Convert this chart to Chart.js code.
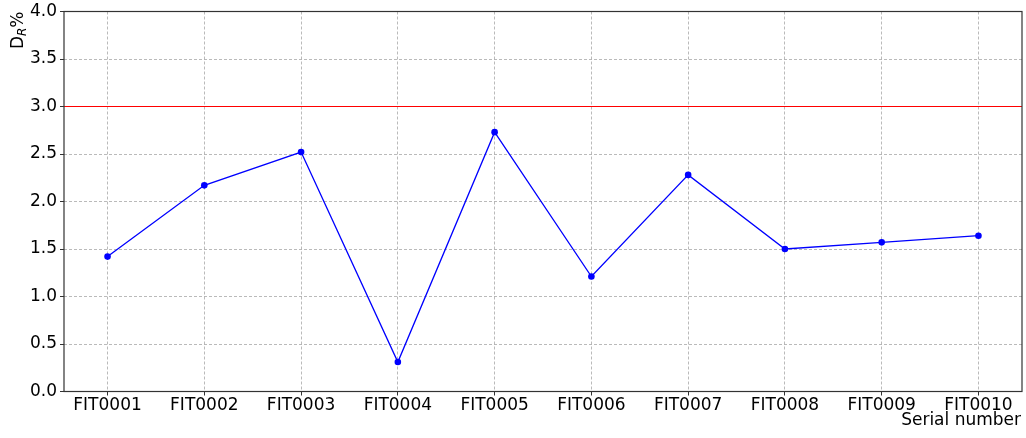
<!DOCTYPE html>
<html>
<head>
<meta charset="utf-8">
<script src="https://cdn.jsdelivr.net/npm/chart.js@4.4.1/dist/chart.umd.min.js"></script>
<style>
  html, body { margin: 0; padding: 0; background: #ffffff; }
  #wrap { width: 1026px; height: 438px; }
</style>
</head>
<body>
<div id="wrap"><canvas id="chart" width="1026" height="438"></canvas></div>
<script>
// Serial numbers of the measured units
const serials = ['FIT0001', 'FIT0002', 'FIT0003', 'FIT0004', 'FIT0005',
                 'FIT0006', 'FIT0007', 'FIT0008', 'FIT0009', 'FIT0010'];
// Relative deviation D_R in percent for each unit
const deviation = [1.42, 2.17, 2.52, 0.31, 2.73, 1.21, 2.28, 1.50, 1.57, 1.64];
// Acceptance limit (percent)
const limit = 3.0;
// Y axis tick values
const yTicks = [0.0, 0.5, 1.0, 1.5, 2.0, 2.5, 3.0, 3.5, 4.0];

const FONT = '"DejaVu Sans", sans-serif';
const FONT_SIZE = 17;

const points = deviation.map((v, i) => ({ x: i, y: v }));

// Horizontal limit line across the full plot width
const limitLine = {
  id: 'limitLine',
  beforeDatasetsDraw(chart) {
    const { ctx, chartArea, scales } = chart;
    const y = scales.y.getPixelForValue(limit);
    ctx.save();
    ctx.strokeStyle = '#ff0000';
    ctx.lineWidth = 1.2;
    ctx.beginPath();
    ctx.moveTo(chartArea.left, y);
    ctx.lineTo(chartArea.right, y);
    ctx.stroke();
    ctx.restore();
  }
};

// Box around the plot area plus the two axis labels
const frameAndLabels = {
  id: 'frameAndLabels',
  afterDraw(chart) {
    const { ctx, chartArea } = chart;
    ctx.save();
    ctx.strokeStyle = '#333333';
    ctx.lineWidth = 1.2;
    ctx.strokeRect(chartArea.left, chartArea.top,
                   chartArea.right - chartArea.left, chartArea.bottom - chartArea.top);

    // x axis label, right aligned under the axis
    ctx.fillStyle = '#000000';
    ctx.font = FONT_SIZE + 'px ' + FONT;
    ctx.textAlign = 'right';
    ctx.textBaseline = 'alphabetic';
    ctx.fillText('Serial number', chartArea.right - 1, 425);

    // y axis label D_R %, rotated, ending at the top of the axis
    const big = FONT_SIZE + 'px ' + FONT;
    const small = 'italic ' + Math.round(FONT_SIZE * 0.7) + 'px ' + FONT;
    ctx.font = big;
    const wD = ctx.measureText('D').width;
    const wP = ctx.measureText('%').width;
    ctx.font = small;
    const wR = ctx.measureText('R').width;
    const total = wD + wR + wP;
    ctx.translate(23, chartArea.top);
    ctx.rotate(-Math.PI / 2);
    ctx.textAlign = 'left';
    let x = -total;
    ctx.font = big;
    ctx.fillText('D', x, 0);
    x += wD;
    ctx.font = small;
    ctx.fillText('R', x, 3);
    x += wR;
    ctx.font = big;
    ctx.fillText('%', x, 0);
    ctx.restore();
  }
};

new Chart(document.getElementById('chart'), {
  type: 'line',
  data: {
    datasets: [{
      data: points,
      borderColor: '#0000ff',
      backgroundColor: '#0000ff',
      borderWidth: 1.3,
      pointRadius: 3.3,
      pointBorderWidth: 0,
      pointBackgroundColor: '#0000ff',
      tension: 0,
      fill: false
    }]
  },
  options: {
    responsive: false,
    animation: false,
    layout: { padding: { left: 0, right: 4, top: 10, bottom: 0 } },
    plugins: {
      legend: { display: false },
      tooltip: { enabled: false }
    },
    scales: {
      x: {
        type: 'linear',
        min: -0.45,
        max: serials.length - 1 + 0.45,
        afterBuildTicks(scale) {
          scale.ticks = serials.map((s, i) => ({ value: i }));
        },
        afterFit(scale) { scale.height = 46.5; },
        ticks: {
          autoSkip: false,
          maxRotation: 0,
          padding: 2,
          color: '#000000',
          font: { family: FONT, size: FONT_SIZE, lineHeight: 1.0 },
          callback: (v) => serials[v]
        },
        grid: {
          color: '#a8a8a8',
          lineWidth: 0.8,
          drawTicks: true,
          tickLength: 4,
          tickColor: '#333333',
          tickWidth: 1,
          tickBorderDash: []
        },
        border: { display: false, dash: [3, 2] }
      },
      y: {
        type: 'linear',
        min: 0,
        max: 4,
        afterBuildTicks(scale) {
          scale.ticks = yTicks.map(v => ({ value: v }));
        },
        afterFit(scale) { scale.width = 64; },
        ticks: {
          padding: 3,
          color: '#000000',
          font: { family: FONT, size: FONT_SIZE, lineHeight: 1.0 },
          callback: (v) => Number(v).toFixed(1)
        },
        grid: {
          color: '#a8a8a8',
          lineWidth: 0.8,
          drawTicks: true,
          tickLength: 4,
          tickColor: '#333333',
          tickWidth: 1,
          tickBorderDash: []
        },
        border: { display: false, dash: [3, 2] }
      }
    }
  },
  plugins: [limitLine, frameAndLabels]
});
</script>
</body>
</html>
